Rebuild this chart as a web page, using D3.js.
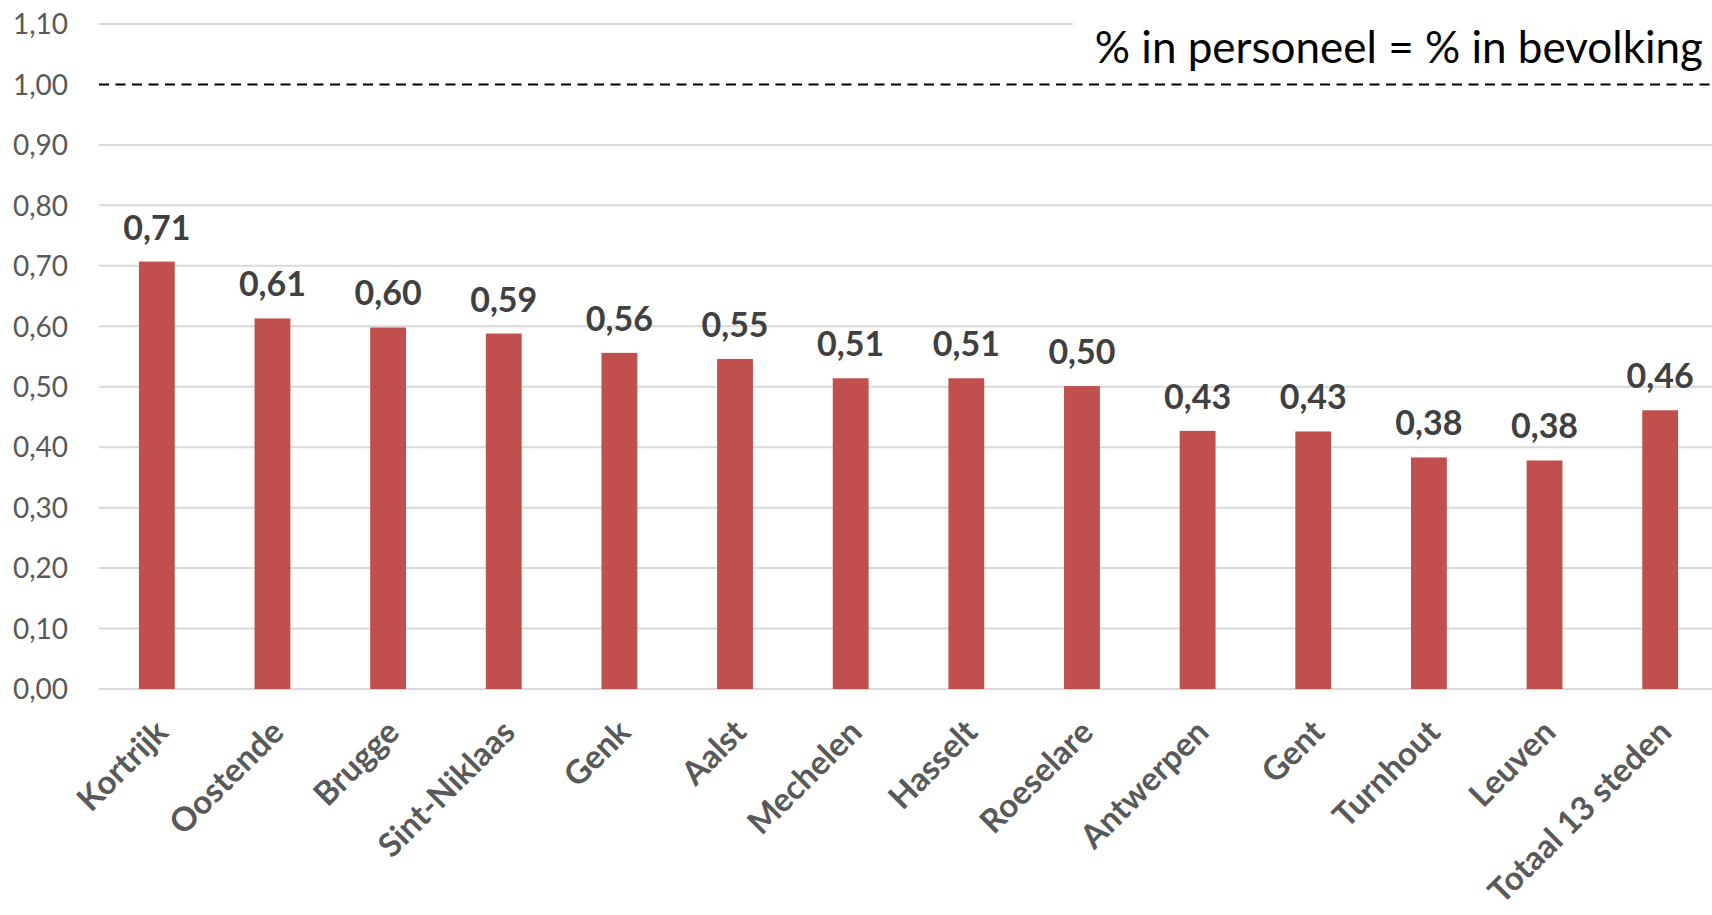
<!DOCTYPE html>
<html><head><meta charset="utf-8">
<script src="https://cdn.jsdelivr.net/npm/d3@7"></script>
<style>html,body{margin:0;padding:0;background:#fff;}svg{display:block;}</style>
</head><body>
<svg id="chart" width="1712" height="915"></svg>
<script>
const categories = ["Kortrijk","Oostende","Brugge","Sint-Niklaas","Genk","Aalst","Mechelen","Hasselt","Roeselare","Antwerpen","Gent","Turnhout","Leuven","Totaal 13 steden"];
const values = [0.707, 0.613, 0.598, 0.588, 0.556, 0.546, 0.514, 0.514, 0.501, 0.427, 0.426, 0.383, 0.378, 0.461];
const yTicks = [0,0.1,0.2,0.3,0.4,0.5,0.6,0.7,0.8,0.9,1.0,1.1];
const referenceValue = 1.0;
const referenceLabel = "% in personeel = % in bevolking";

(function () {
const mL = 99, mR = 1712, mT = 24, mB = 689;
const svg = d3.select("#chart");
const font = "Lato, 'Open Sans', sans-serif";
const fmt = v => v.toFixed(2).replace(".", ",");

const x = d3.scaleBand().domain(categories).range([mL, 1718]).paddingInner(0.69).paddingOuter(0.345);
const y = d3.scaleLinear().domain([0, 1.1]).range([mB, mT]);

svg.append("g").selectAll("line").data(yTicks.filter(t => t !== referenceValue)).join("line")
  .attr("x1", mL).attr("x2", d => d === 1.1 ? 1073 : mR)
  .attr("y1", d => y(d)).attr("y2", d => y(d))
  .attr("stroke", "#d9d9d9").attr("stroke-width", 2);

const yAxis = d3.axisLeft(y).tickValues(yTicks).tickFormat(fmt).tickSize(0).tickPadding(0);
const gy = svg.append("g").attr("transform", "translate(68,0)").call(yAxis);
gy.select(".domain").remove();
gy.selectAll("text").attr("font-family", font).attr("font-size", 28).attr("fill", "#595959").attr("dy", "0.35em");

svg.append("g").selectAll("rect").data(values).join("rect")
  .attr("x", (d, i) => x(categories[i])).attr("width", x.bandwidth())
  .attr("y", d => y(d)).attr("height", d => y(0) - y(d))
  .attr("fill", "#C0504D");

svg.append("g").selectAll("text").data(values).join("text")
  .attr("x", (d, i) => x(categories[i]) + x.bandwidth() / 2)
  .attr("y", d => y(d) - 22)
  .attr("text-anchor", "middle")
  .attr("font-family", font).attr("font-weight", "bold").attr("font-size", 34)
  .attr("fill", "#404040").text(fmt);

svg.append("g").selectAll("text").data(categories).join("text")
  .attr("transform", d => `translate(${x(d) + x.bandwidth() / 2 + 5},${mB + 37}) rotate(-45)`)
  .attr("text-anchor", "end").attr("dy", "0.35em")
  .attr("font-family", font).attr("font-weight", "bold").attr("font-size", 33)
  .attr("fill", "#595959").text(d => d);

svg.append("line").attr("x1", mL).attr("x2", mR)
  .attr("y1", y(referenceValue)).attr("y2", y(referenceValue))
  .attr("stroke", "#000").attr("stroke-width", 2).attr("stroke-dasharray", "10,6.5");

svg.append("text").attr("x", 1703).attr("y", 63).attr("text-anchor", "end")
  .attr("font-family", font).attr("font-size", 44).attr("fill", "#000").text(referenceLabel);
})();
</script>
</body></html>
